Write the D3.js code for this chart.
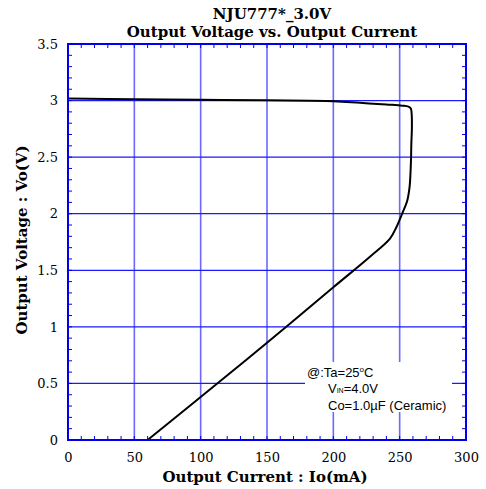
<!DOCTYPE html>
<html><head><meta charset="utf-8">
<script src="https://cdn.jsdelivr.net/npm/d3@7/dist/d3.min.js"></script>
<style>body{margin:0;background:#fff}svg{display:block}</style>
</head><body>
<script>
const currentMA = [0, 50, 100, 150, 200, 220, 240, 252, 256.6, 258.4, 259.1, 259.2, 258.8, 258.6, 258.2, 257.5, 255.8, 254, 251.5, 247.7, 242.7, 227.6, 200, 150, 100, 60];
const voltageV  = [3.018, 3.012, 3.007, 3.002, 2.995, 2.98, 2.965, 2.955, 2.946, 2.93, 2.87, 2.75, 2.62, 2.5, 2.37, 2.24, 2.12, 2.06, 1.99, 1.885, 1.78, 1.62, 1.35, 0.86, 0.38, 0];
const xTicks = [0, 50, 100, 150, 200, 250, 300];
const yTicks = [0, 0.5, 1, 1.5, 2, 2.5, 3, 3.5];
const titleLines = ["NJU777*_3.0V", "Output Voltage vs. Output Current"];

const W = 486, H = 489;
const m = {l: 68, r: 20, t: 44, b: 49};
const svg = d3.select("body").append("svg").attr("width", W).attr("height", H);
const x = d3.scaleLinear().domain([0, 300]).range([m.l, W - m.r]);
const y = d3.scaleLinear().domain([0, 3.5]).range([H - m.b, m.t]);
const blue = "#0000ee";
const serif = "'DejaVu Serif', 'Liberation Serif', serif";

// grid
svg.append("g").selectAll("line").data(xTicks.slice(1, -1)).join("line")
  .attr("x1", d => x(d)).attr("x2", d => x(d)).attr("y1", y(0)).attr("y2", y(3.5))
  .attr("stroke", "#6a6aff").attr("stroke-width", 1.6);
svg.append("g").selectAll("line").data(yTicks.slice(1, -1)).join("line")
  .attr("y1", d => y(d)).attr("y2", d => y(d)).attr("x1", x(0)).attr("x2", x(300))
  .attr("stroke", "#1a1aff").attr("stroke-width", 1.2);

// minor ticks (inward) on all sides
const xMinor = d3.range(0, 301, 10);
const yMinor = d3.range(0, 36).map(i => i / 10);
svg.append("g").selectAll("line").data(xMinor).join("line")
  .attr("x1", d => x(d)).attr("x2", d => x(d)).attr("y1", y(0)).attr("y2", y(0) - 4)
  .attr("stroke", blue);
svg.append("g").selectAll("line").data(xMinor).join("line")
  .attr("x1", d => x(d)).attr("x2", d => x(d)).attr("y1", y(3.5)).attr("y2", y(3.5) + 4)
  .attr("stroke", blue);
svg.append("g").selectAll("line").data(yMinor).join("line")
  .attr("y1", d => y(d)).attr("y2", d => y(d)).attr("x1", x(0)).attr("x2", x(0) + 4)
  .attr("stroke", blue);
svg.append("g").selectAll("line").data(yMinor).join("line")
  .attr("y1", d => y(d)).attr("y2", d => y(d)).attr("x1", x(300)).attr("x2", x(300) - 4)
  .attr("stroke", blue);

// annotation background box
svg.append("rect").attr("x", 305).attr("y", 362).attr("width", 147).attr("height", 50).attr("fill", "#fff");

// curve
const pts = currentMA.map((c, i) => [c, voltageV[i]]);
svg.append("path").datum(pts)
  .attr("d", d3.line().x(d => x(d[0])).y(d => y(d[1])).curve(d3.curveCatmullRom.alpha(0.5)))
  .attr("fill", "none").attr("stroke", "#000").attr("stroke-width", 2);

// frame
svg.append("rect").attr("x", x(0)).attr("y", y(3.5)).attr("width", x(300) - x(0)).attr("height", y(0) - y(3.5))
  .attr("fill", "none").attr("stroke", blue).attr("stroke-width", 2);

// axes labels using d3 axes (no lines)
const xAxis = svg.append("g").attr("transform", `translate(0,${y(0)})`)
  .call(d3.axisBottom(x).tickValues(xTicks).tickSize(0).tickPadding(13).tickFormat(d3.format("d")));
xAxis.select(".domain").remove();
xAxis.selectAll("text").attr("font-family", serif).attr("font-size", 13).attr("fill", "#000");
const yAxis = svg.append("g").attr("transform", `translate(${x(0)},0)`)
  .call(d3.axisLeft(y).tickValues(yTicks).tickSize(0).tickPadding(10).tickFormat(d => d3.format("")(d)));
yAxis.select(".domain").remove();
yAxis.selectAll("text").attr("font-family", serif).attr("font-size", 13).attr("fill", "#000");

// titles
svg.append("text").attr("x", 272).attr("y", 19).attr("text-anchor", "middle")
  .attr("font-family", serif).attr("font-weight", "bold").attr("font-size", 15).text(titleLines[0]);
svg.append("text").attr("x", 272).attr("y", 37).attr("text-anchor", "middle")
  .attr("font-family", serif).attr("font-weight", "bold").attr("font-size", 15).text(titleLines[1]);
svg.append("text").attr("x", 265).attr("y", 482).attr("text-anchor", "middle")
  .attr("font-family", serif).attr("font-weight", "bold").attr("font-size", 15).text("Output Current : Io(mA)");
svg.append("text").attr("transform", "translate(27,240) rotate(-90)").attr("text-anchor", "middle")
  .attr("font-family", serif).attr("font-weight", "bold").attr("font-size", 15).text("Output Voltage : Vo(V)");

// annotation
const sans = "'Liberation Sans', Arial, sans-serif";
const a1 = svg.append("text").attr("x", 307).attr("y", 377).attr("font-family", sans).attr("font-size", 13);
a1.append("tspan").text("@:Ta=25");
a1.append("tspan").attr("font-size", 8).attr("dy", -5).text("o");
a1.append("tspan").attr("dy", 5).text("C");
const a2 = svg.append("text").attr("x", 328).attr("y", 393).attr("font-family", sans).attr("font-size", 13);
a2.append("tspan").text("V");
a2.append("tspan").attr("font-size", 7).text("IN");
a2.append("tspan").text("=4.0V");
svg.append("text").attr("x", 328).attr("y", 410).attr("font-family", sans).attr("font-size", 13).text("Co=1.0\u00b5F (Ceramic)");
</script>
</body></html>
